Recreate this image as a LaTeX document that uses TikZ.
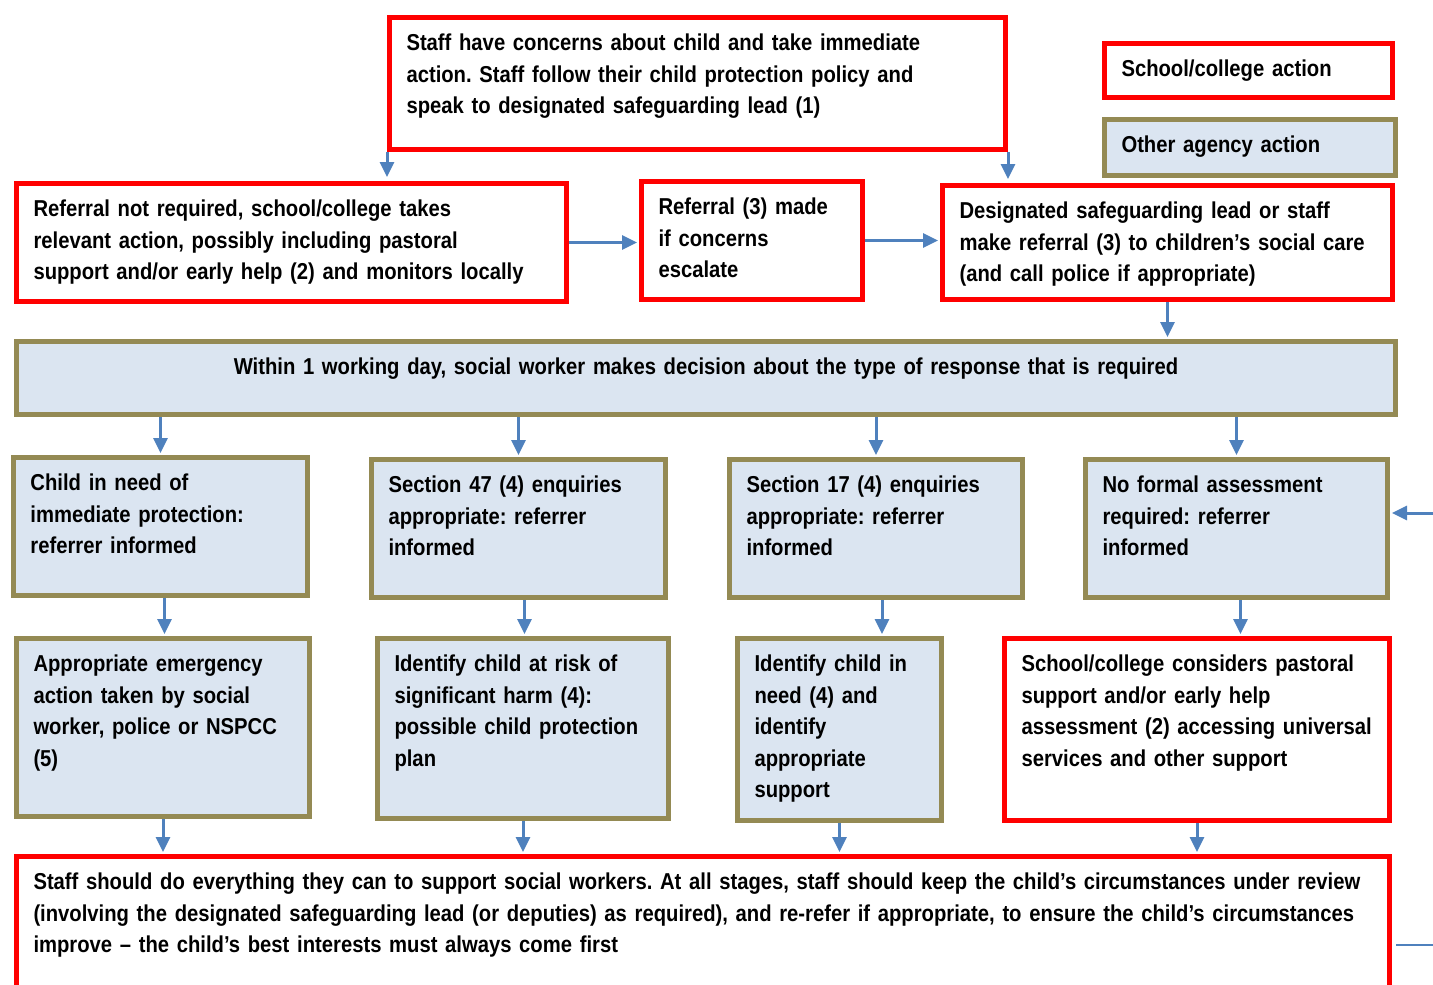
\documentclass[tikz,border=0pt]{standalone}
\usepackage{fontspec}
\setmainfont{Liberation Sans}[FakeStretch=0.88, WordSpace=0.95]
\usetikzlibrary{arrows.meta}
\definecolor{schoolred}{RGB}{255,0,0}
\definecolor{agencyolive}{RGB}{148,138,84}
\definecolor{agencyfill}{RGB}{219,229,241}
\definecolor{flowblue}{RGB}{79,129,189}
\frenchspacing

\begin{document}
\begin{tikzpicture}[
    x=1pt, y=-1pt,
    box/.style={draw, line width=5pt, anchor=north west, align=left, inner xsep=17pt, inner ysep=16pt,
                text height=17pt, font=\bfseries\fontsize{23}{31.5}\selectfont},
    schoolbox/.style={box, draw=schoolred},
    agencybox/.style={box, draw=agencyolive, fill=agencyfill},
    flow/.style={-{Triangle[width=14pt, length=15pt]}, line width=3pt, draw=flowblue, shorten >=2pt},
    stub/.style={line width=1.5pt, draw=flowblue}
]
    \useasboundingbox (0,0) rectangle (1433,985);
    \clip (0,0) rectangle (1433,985);

    % Key
    \node[schoolbox, minimum width=288pt, text width=254pt, text depth=5pt] (key1) at (1102,41) {School/college action};
    \node[agencybox, minimum width=291pt, text width=257pt, text depth=7pt] (key2) at (1102,117) {Other agency action};

    % School/college stage
    \node[schoolbox, minimum width=616pt, text width=582pt, text depth=83pt] (concern) at (387,15)
        {Staff have concerns about child and take immediate\\action. Staff follow their child protection policy and\\speak to designated safeguarding lead (1)};
    \node[schoolbox, minimum width=550pt, text width=516pt, text depth=69pt] (noref) at (14,181)
        {Referral not required, school/college takes\\relevant action, possibly including pastoral\\support and/or early help (2) and monitors locally};
    \node[schoolbox, minimum width=221pt, text width=187pt, text depth=69pt] (escalate) at (639,179)
        {Referral (3) made\\if concerns\\escalate};
    \node[schoolbox, minimum width=450pt, text width=416pt, text depth=65pt] (dsl) at (940,183)
        {Designated safeguarding lead or staff\\make referral (3) to children’s social care\\(and call police if appropriate)};

    % Social care decision
    \node[agencybox, align=center, minimum width=1379pt, text width=1345pt, text depth=24pt] (decide) at (14,339)
        {Within 1 working day, social worker makes decision about the type of response that is required};

    % Outcomes
    \node[agencybox, minimum width=294pt, text width=260pt, text depth=89pt] (urgent) at (11,455)
        {Child in need of\\immediate protection:\\referrer informed};
    \node[agencybox, minimum width=294pt, text width=260pt, text depth=89pt] (sfortyseven) at (369,457)
        {Section 47 (4) enquiries\\appropriate: referrer\\informed};
    \node[agencybox, minimum width=293pt, text width=259pt, text depth=89pt] (sseventeen) at (727,457)
        {Section 17 (4) enquiries\\appropriate: referrer\\informed};
    \node[agencybox, minimum width=302pt, text width=268pt, text depth=89pt] (noassess) at (1083,457)
        {No formal assessment\\required: referrer\\informed};

    % Follow-up
    \node[agencybox, minimum width=293pt, text width=259pt, text depth=129pt] (emergency) at (14,636)
        {Appropriate emergency\\action taken by social\\worker, police or NSPCC\\(5)};
    \node[agencybox, minimum width=291pt, text width=257pt, text depth=131pt] (harm) at (375,636)
        {Identify child at risk of\\significant harm (4):\\possible child protection\\plan};
    \node[agencybox, minimum width=204pt, text width=170pt, text depth=133pt] (inneed) at (735,636)
        {Identify child in\\need (4) and\\identify\\appropriate\\support};
    \node[schoolbox, minimum width=385pt, text width=351pt, text depth=133pt] (pastoral) at (1002,636)
        {School/college considers pastoral\\support and/or early help\\assessment (2) accessing universal\\services and other support};

    \node[schoolbox, minimum width=1373pt, text width=1339pt, text depth=111pt] (review) at (14,854)
        {Staff should do everything they can to support social workers. At all stages, staff should keep the child’s circumstances under review\\(involving the designated safeguarding lead (or deputies) as required), and re-refer if appropriate, to ensure the child’s circumstances\\improve – the child’s best interests must always come first};

    \coordinate (feedin) at (1433,513);
    \coordinate (feedout) at (1433,945);

    % Connectors
    \draw[flow, shorten >=4pt] (concern.south west) -- (concern.south west |- noref.north);
    \draw[flow, shorten >=4pt] (concern.south east) -- (concern.south east |- dsl.north);
    \draw[flow] (noref.east) -- (noref.east -| escalate.west);
    \draw[flow] (escalate.east) -- (escalate.east -| dsl.west);
    \draw[flow] (dsl.south) -- (dsl.south |- decide.north);
    \foreach \n in {urgent, sfortyseven, sseventeen, noassess}
        \draw[flow] (decide.south -| \n.north) -- (\n.north);
    \draw[flow] ([xshift=4pt]urgent.south) -- ([xshift=4pt]urgent.south |- emergency.north);
    \draw[flow] ([xshift=6pt]sfortyseven.south) -- ([xshift=6pt]sfortyseven.south |- harm.north);
    \draw[flow] ([xshift=6pt]sseventeen.south) -- ([xshift=6pt]sseventeen.south |- inneed.north);
    \draw[flow] ([xshift=4pt]noassess.south) -- ([xshift=4pt]noassess.south |- pastoral.north);
    \foreach \n in {emergency, harm, inneed, pastoral}
        \draw[flow] (\n.south) -- (\n.south |- review.north);
    \draw[flow] (feedin) -- (feedin -| noassess.east);
    \draw[stub, shorten >=4pt] (feedout) -- (feedout -| review.east);
\end{tikzpicture}
\end{document}
